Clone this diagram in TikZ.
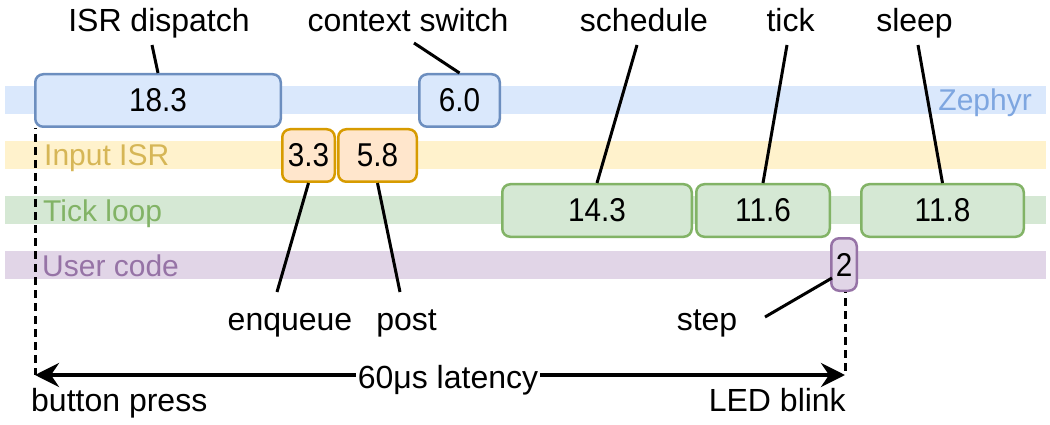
\documentclass[tikz,border=0pt]{standalone}
\usepackage{fontspec}
\setmainfont{Liberation Sans}
\newfontfamily\segfont[FakeStretch=0.9]{Liberation Sans}
\usetikzlibrary{arrows.meta,calc}

\tikzset{
  x=1pt, y=-1pt,
  lane/.style={font=\fontsize{30}{36}\selectfont, inner sep=0pt},
  lbl/.style={font=\fontsize{32}{38}\selectfont, inner sep=0pt, anchor=base},
  seg/.style={rounded corners=8pt, line width=2.5pt, inner sep=0pt,
    minimum height=52.5pt, font=\segfont\fontsize{33}{38}\selectfont},
  zseg/.style={seg, draw=zStroke, fill=zFill},
  iseg/.style={seg, draw=iStroke, fill=iFill},
  tseg/.style={seg, draw=tStroke, fill=tFill},
  useg/.style={seg, draw=uStroke, fill=uFill},
  leader/.style={line width=3pt, black},
  marker/.style={line width=3pt, dash pattern=on 8pt off 5pt, dash phase=7pt},
  span/.style={line width=4pt, {Stealth[length=24pt,width=24pt,inset=8pt]}-{Stealth[length=24pt,width=24pt,inset=8pt]}}
}

\definecolor{zFill}{HTML}{DAE8FC}\definecolor{zStroke}{HTML}{6C8EBF}\definecolor{zText}{HTML}{7EA6E0}
\definecolor{iFill}{HTML}{FFE6CC}\definecolor{iStroke}{HTML}{D79B00}\definecolor{iBand}{HTML}{FFF2CC}\definecolor{iText}{HTML}{D6B656}
\definecolor{tFill}{HTML}{D5E8D4}\definecolor{tStroke}{HTML}{82B366}
\definecolor{uFill}{HTML}{E1D5E7}\definecolor{uStroke}{HTML}{9673A6}

\begin{document}
\begin{tikzpicture}
\useasboundingbox (0,0) rectangle (1050,425);

% swim-lane bands
\fill[zFill] (5,86) rectangle (1046,114);
\fill[iBand] (5,141) rectangle (1046,169);
\fill[tFill] (5,196) rectangle (1046,224);
\fill[uFill] (5,251) rectangle (1046,279);

% lane names
\node[lane, text=zText, anchor=base east] (lz) at (1032,111) {Zephyr};
\node[lane, text=iText, anchor=base west] (li) at (44,166) {Input ISR};
\node[lane, text=tStroke, anchor=base west] (lt) at (43,221) {Tick loop};
\node[lane, text=uStroke, anchor=base west] (lu) at (42,276) {User code};

% time segments
\node[zseg, minimum width=245.5pt] (isr)  at (158,100.5) {18.3};
\node[zseg, minimum width=80.5pt]  (ctx)  at (459.5,100.5) {6.0};
\node[iseg, minimum width=52.5pt]  (enq)  at (308.5,155.5) {3.3};
\node[iseg, minimum width=78.5pt]  (post) at (377.5,155.5) {5.8};
\node[tseg, minimum width=189.5pt] (sch)  at (597,210.5) {14.3};
\node[tseg, minimum width=133.5pt] (tick) at (763,210.5) {11.6};
\node[tseg, minimum width=162.5pt] (slp)  at (942.5,210.5) {11.8};
\node[useg, minimum width=25.5pt]  (usr)  at (844,264.5) {2};

% annotations above
\node[lbl] (nisr)  at (159,32) {ISR dispatch};
\node[lbl] (nctx)  at (408,32) {context switch};
\node[lbl] (nsch)  at (644,32) {schedule};
\node[lbl] (ntick) at (790.5,32) {tick};
\node[lbl] (nslp)  at (914.5,32) {sleep};

\coordinate (cisr)  at (152,45);
\coordinate (cctx)  at (414,43);
\coordinate (csch)  at (637,45);
\coordinate (ctick) at (787,45);
\coordinate (cslp)  at (918,45);
\draw[leader] (cisr) -- (isr.north);
\draw[leader] (cctx) -- (ctx.north);
\draw[leader] (csch) -- (sch.north);
\draw[leader] (ctick) -- (tick.north);
\draw[leader] (cslp) -- (slp.north);

% annotations below
\node[lbl] (nenq)  at (290,330) {enqueue};
\node[lbl] (npost) at (406.5,330) {post};
\node[lbl] (nstep) at (707,330) {step};

\coordinate (cenq)  at (277,292);
\coordinate (cpost) at (400,292);
\coordinate (cstep) at (765,317);
\coordinate (cusr)  at (832,278);
\draw[leader] (enq.south) -- (cenq);
\draw[leader] (post.south) -- (cpost);
\draw[leader] (cusr) -- (cstep);

% end-to-end latency
\coordinate (press) at (35,375);
\coordinate (blink) at (845,375);
\draw[marker] (isr.south west -| press) -- (press);
\draw[marker] (usr.south -| blink) -- (blink);
\draw[span] (press) -- (blink);
\node[lbl, fill=white, inner xsep=2pt, inner ysep=1pt] (lat) at (448,388) {60μs latency};
\node[lbl, anchor=base west] (bp) at (31,411) {button press};
\node[lbl, anchor=base east] (lb) at (846,411) {LED blink};
\end{tikzpicture}
\end{document}
